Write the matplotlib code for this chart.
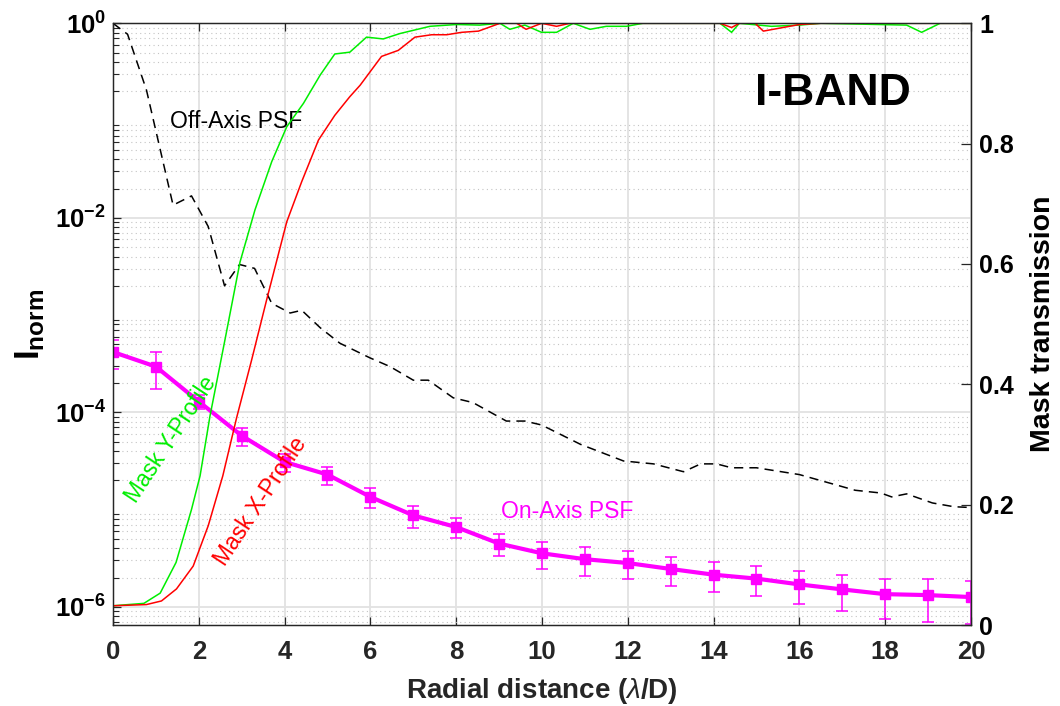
#!/usr/bin/env python3
import matplotlib
matplotlib.use("Agg")
import matplotlib.pyplot as plt
from matplotlib.ticker import LogLocator, NullFormatter, FixedLocator

# -------------------------------
# Data
# -------------------------------

# Off-axis PSF (black dashed), normalised intensity
off_x = [0, 0.34, 0.78, 1.40, 1.83, 2.22, 2.60, 2.95, 3.30, 3.70, 4.13, 4.40, 4.83,
         5.29, 5.99, 6.46, 7.00, 7.35, 7.93, 8.39, 9.17, 9.60, 9.99, 10.9, 11.9,
         12.6, 13.3, 13.7, 14.07, 14.42, 15.0, 16.0, 17.3, 17.9, 18.15, 18.5,
         19.1, 19.6, 20.0]
off_y = [1.0, 0.771, 0.206, 0.0135, 0.0168, 0.00813, 0.00200, 0.00331, 0.00302,
         0.00132, 0.00105, 0.00112, 7.41e-4, 5.13e-4, 3.63e-4, 2.95e-4, 2.14e-4,
         2.14e-4, 1.41e-4, 1.26e-4, 8.13e-5, 8.13e-5, 7.41e-5, 4.68e-5, 3.16e-5,
         2.95e-5, 2.45e-5, 2.95e-5, 2.95e-5, 2.69e-5, 2.69e-5, 2.29e-5, 1.58e-5,
         1.48e-5, 1.35e-5, 1.45e-5, 1.17e-5, 1.07e-5, 1.05e-5]

# On-axis PSF (magenta, with error bars)
on_x = list(range(0, 21))
on_y = [4.17e-4, 2.95e-4, 1.29e-4, 5.75e-5, 3.09e-5, 2.29e-5, 1.35e-5, 8.71e-6,
        6.61e-6, 4.47e-6, 3.55e-6, 3.09e-6, 2.82e-6, 2.45e-6, 2.14e-6, 1.95e-6,
        1.70e-6, 1.51e-6, 1.35e-6, 1.32e-6, 1.26e-6]
on_err = [1.4e-4, 1.2e-4, 2.2e-5, 1.2e-5, 6.5e-6, 4.8e-6, 3.2e-6, 2.2e-6, 1.55e-6,
          1.1e-6, 1.1e-6, 1.0e-6, 0.9e-6, 0.8e-6, 0.72e-6, 0.65e-6, 0.64e-6,
          0.6e-6, 0.6e-6, 0.63e-6, 0.6e-6]

# Mask Y-profile (green), transmission
mask_y_x = [0, 0.72, 1.10, 1.47, 1.83, 2.03, 2.26, 2.61, 2.96, 3.31, 3.70, 4.05,
            4.44, 4.83, 5.17, 5.52, 5.91, 6.30, 6.69, 7.39, 8.01, 8.55, 9.02, 9.25,
            9.60, 9.99, 10.34, 10.73, 11.12, 11.50, 11.97, 12.35, 14.15, 14.42,
            14.60, 15.35, 16.0, 16.5, 18.5, 18.85, 19.28, 20]
mask_y_t = [0.032, 0.036, 0.053, 0.104, 0.192, 0.248, 0.347, 0.474, 0.603, 0.69,
            0.77, 0.828, 0.867, 0.914, 0.949, 0.952, 0.977, 0.974, 0.983, 0.995,
            0.998, 0.997, 1.0, 0.99, 0.997, 0.985, 0.985, 1.0, 0.99, 0.995, 0.995,
            1.0, 1.0, 0.985, 1.0, 0.995, 0.997, 1.0, 0.997, 0.985, 1.0, 1.0]

# Mask X-profile (red), transmission
mask_x_x = [0, 0.78, 1.13, 1.48, 1.87, 2.22, 2.56, 2.88, 3.23, 3.58, 4.05, 4.40,
            4.79, 5.17, 5.52, 5.76, 6.26, 6.65, 7.04, 7.43, 7.78, 8.13, 8.52, 9.02,
            9.41, 9.63, 9.99, 10.34, 10.65, 14.15, 14.42, 14.60, 14.97, 15.16,
            16.0, 16.5, 20]
mask_x_t = [0.032, 0.034, 0.040, 0.060, 0.098, 0.165, 0.248, 0.344, 0.44, 0.54,
            0.67, 0.737, 0.806, 0.847, 0.878, 0.897, 0.945, 0.955, 0.977, 0.981,
            0.981, 0.985, 0.987, 1.0, 1.0, 0.99, 1.0, 0.995, 1.0, 1.0, 0.993, 1.0,
            1.0, 0.987, 0.998, 1.0, 1.0]

x_ticks = [0, 2, 4, 6, 8, 10, 12, 14, 16, 18, 20]
log_ticks = [1e-6, 1e-4, 1e-2, 1]
log_tick_labels = [r"$\mathbf{10^{-6}}$", r"$\mathbf{10^{-4}}$",
                   r"$\mathbf{10^{-2}}$", r"$\mathbf{10^{0}}$"]
trans_ticks = [0, 0.2, 0.4, 0.6, 0.8, 1]
trans_tick_labels = ["0", "0.2", "0.4", "0.6", "0.8", "1"]

# -------------------------------
# Style
# -------------------------------

plt.rcParams["font.family"] = "Liberation Sans"
plt.rcParams["mathtext.fontset"] = "custom"
plt.rcParams["mathtext.rm"] = "Liberation Sans"
plt.rcParams["mathtext.it"] = "Liberation Sans:italic"
plt.rcParams["mathtext.bf"] = "Liberation Sans:bold"

SPINE = "#262626"
GREEN = "#00ee00"
RED = "#ff0000"
MAGENTA = "#ff00ff"


def main():
    fig = plt.figure(figsize=(10.6, 7.06), dpi=100)
    ax = fig.add_axes([0.1066, 0.1147, 0.8094, 0.8523])
    ax.set_yscale("log")
    ax.set_xlim(0, 20)
    ax.set_ylim(6.5e-7, 1)

    # grids (log axis)
    ax.set_axisbelow(True)
    ax.grid(True, which="major", axis="both", color="#e2e2e2", lw=1.3)
    ax.grid(True, which="minor", axis="y", color="#c4c4c4", ls=(0, (1, 3)), lw=0.8)

    # curves on the log axis
    ax.plot(off_x, off_y, color="black", ls=(0, (6, 4)), lw=1.1)
    ax.errorbar(on_x, on_y, yerr=on_err, color=MAGENTA, lw=3, marker="s", ms=7,
                capsize=4, elinewidth=1.1, capthick=1.1)

    ax.set_xticks(x_ticks)
    ax.set_xticklabels([str(t) for t in x_ticks], fontsize=18.5, fontweight="bold",
                       color=SPINE)
    ax.yaxis.set_major_locator(FixedLocator(log_ticks))
    ax.set_yticklabels(log_tick_labels, fontsize=18.5)
    ax.yaxis.set_minor_locator(LogLocator(base=10, subs=range(2, 10), numticks=20))
    ax.yaxis.set_minor_formatter(NullFormatter())
    ax.tick_params(axis="x", which="major", direction="in", top=True, length=6,
                   width=0.9, color=SPINE, pad=11)
    ax.tick_params(axis="y", which="major", direction="in", right=False, length=6,
                   width=0.9, color=SPINE, pad=5)
    ax.tick_params(axis="y", which="minor", direction="in", right=False, length=4,
                   width=0.8, color=SPINE)
    for s in ax.spines.values():
        s.set_color(SPINE)
        s.set_linewidth(0.9)

    ax.set_xlabel(r"Radial distance ($\lambda$/D)", fontsize=20,
                  fontweight="bold", color=SPINE)
    ax.xaxis.set_label_coords(0.5, -0.085)
    ax.set_ylabel(r"$\mathbf{I}_{\mathbf{norm}}$", fontsize=25)
    ax.yaxis.set_label_coords(-0.077, 0.5)

    # transmission axis
    ax2 = ax.twinx()
    ax2.set_ylim(0, 1)
    ax2.plot(mask_y_x, mask_y_t, color=GREEN, lw=1.1)
    ax2.plot(mask_x_x, mask_x_t, color=RED, lw=1.1)
    ax2.set_yticks(trans_ticks)
    ax2.set_yticklabels(trans_tick_labels, fontsize=18, fontweight="bold")
    ax2.tick_params(axis="y", direction="in", length=7, width=0.9, color=SPINE, pad=6)
    for s in ax2.spines.values():
        s.set_color(SPINE)
        s.set_linewidth(0.9)
    ax2.set_ylabel("Mask transmission", fontsize=20.5, fontweight="bold")
    ax2.yaxis.set_label_coords(1.069, 0.5)

    # annotations
    ax.text(2.87, 0.097, "Off-Axis PSF", fontsize=16.5, color="black",
            ha="center", va="center")
    ax.text(16.78, 0.19, "I-BAND", fontsize=32, fontweight="bold", color="black",
            ha="center", va="center")
    ax.text(1.35, 10 ** -4.283, "Mask Y-Profile", fontsize=16.5, color=GREEN,
            rotation=56.5, ha="center", va="center", rotation_mode="anchor")
    ax.text(3.43, 10 ** -4.92, "Mask X-Profile", fontsize=16.5, color=RED,
            rotation=56.5, ha="center", va="center", rotation_mode="anchor")
    ax.text(10.58, 10 ** -5.02, "On-Axis PSF", fontsize=16.5, color=MAGENTA,
            ha="center", va="center")

    fig.savefig("out.png", dpi=100)
    plt.close(fig)


if __name__ == "__main__":
    main()
